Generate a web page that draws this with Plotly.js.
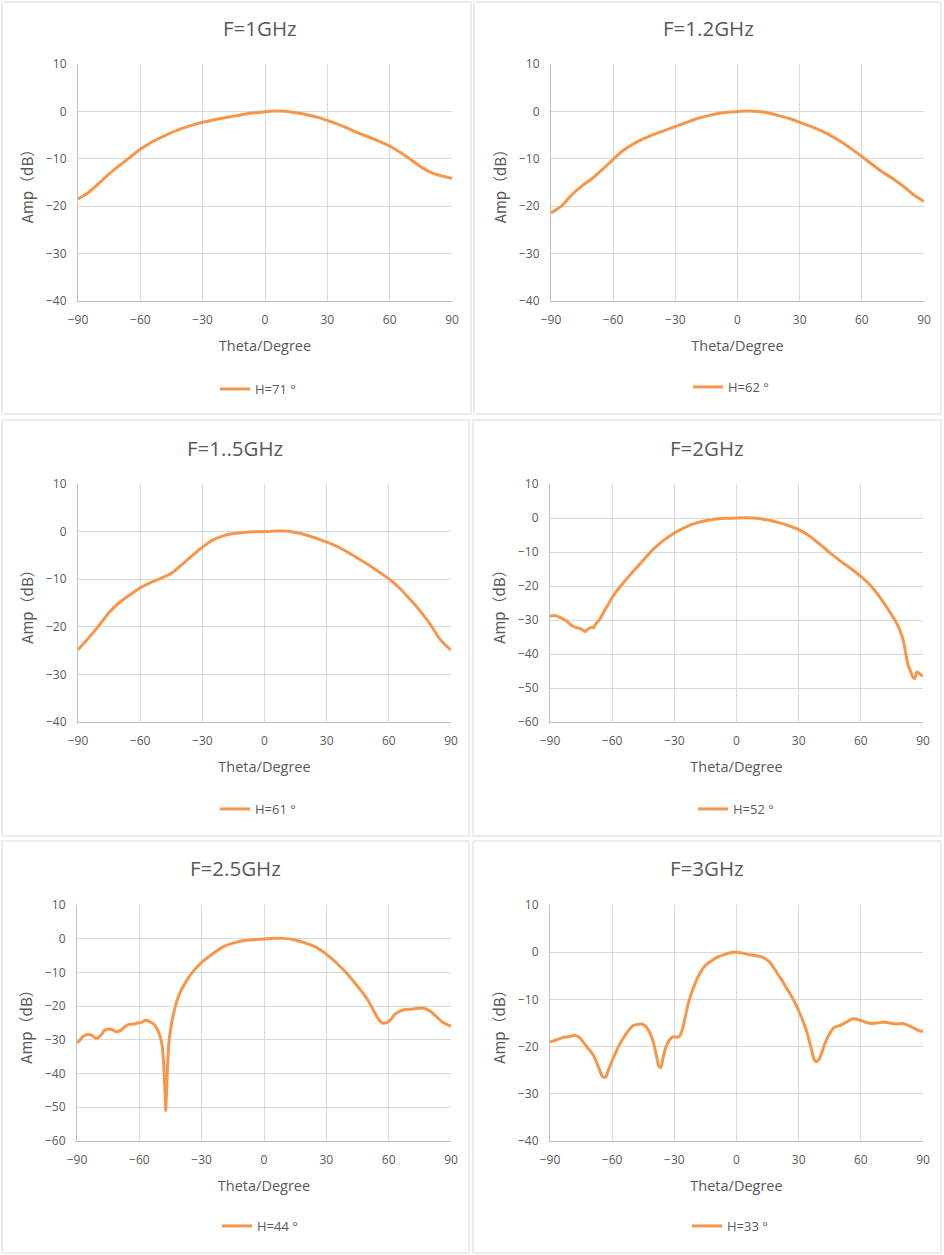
<!DOCTYPE html>
<html>
<head>
<meta charset="utf-8">
<script src="https://cdn.plot.ly/plotly-3.0.1.min.js"></script>
<style>
  html, body { margin: 0; padding: 0; background: #fff; }
  #chart { width: 944px; height: 1255px; }
</style>
</head>
<body>
<div id="chart"></div>
<script>
// panel titles and legend names
const titles = ['F=1GHz', 'F=1.2GHz', 'F=1..5GHz', 'F=2GHz', 'F=2.5GHz', 'F=3GHz'];
const names = ['H=71 °', 'H=62 °', 'H=61 °', 'H=52 °', 'H=44 °', 'H=33 °'];

// theta grid for the smooth patterns (5 degree steps)
const theta5 = [-90, -85, -80, -75, -70, -65, -60, -55, -50, -45, -40, -35, -30, -25, -20, -15, -10, -5,
  0, 5, 10, 15, 20, 25, 30, 35, 40, 45, 50, 55, 60, 65, 70, 75, 80, 85, 90];

const amp1g = [-18.5, -17.1, -15.2, -13.2, -11.4, -9.7, -8.0, -6.6, -5.5, -4.5, -3.6, -2.9, -2.3, -1.8, -1.4, -1.0, -0.6, -0.3,
  -0.05, 0.1, 0.05, -0.3, -0.7, -1.2, -1.9, -2.7, -3.6, -4.6, -5.4, -6.3, -7.3, -8.6, -10.1, -11.7, -12.9, -13.6, -14.1];

const amp12g = [-21.4, -20.0, -17.6, -15.7, -14.1, -12.2, -10.1, -8.2, -6.8, -5.7, -4.8, -4.0, -3.2, -2.4, -1.6, -1.0, -0.5, -0.2,
  0.0, 0.1, 0.0, -0.35, -0.9, -1.5, -2.3, -3.1, -4.0, -5.1, -6.4, -7.9, -9.5, -11.2, -12.8, -14.2, -15.8, -17.6, -19.0];

const amp15g = [-24.8, -22.4, -19.8, -17.0, -14.9, -13.3, -11.8, -10.7, -9.8, -8.8, -7.0, -5.1, -3.3, -1.8, -0.9, -0.4, -0.2, -0.05,
  0.0, 0.1, 0.1, -0.2, -0.7, -1.4, -2.2, -3.1, -4.3, -5.6, -6.9, -8.4, -9.9, -11.8, -14.1, -16.6, -19.5, -22.8, -24.9];

const theta2g = [-90, -88, -86, -84, -82, -80, -78, -76, -74, -73, -72, -70, -69, -68, -66, -64, -62, -60, -57, -54, -50,
  -45, -40, -35, -30, -25, -20, -15, -10, -5, 0, 5, 10, 15, 20, 25, 30, 35, 40, 45, 50, 55, 60, 65, 70, 75, 78, 80,
  81, 82, 83, 84, 85, 86, 87, 88, 89, 90];
const amp2g = [-28.9, -28.7, -29.0, -29.6, -30.3, -31.4, -32.1, -32.4, -33.0, -33.4, -32.8, -32.2, -32.3, -31.2, -29.8,
  -27.6, -25.5, -23.4, -20.8, -18.6, -15.8, -12.4, -9.1, -6.5, -4.4, -2.8, -1.6, -0.8, -0.3, -0.1, 0.0, 0.05, -0.1,
  -0.6, -1.3, -2.2, -3.4, -5.2, -7.6, -10.2, -12.6, -14.8, -17.2, -20.1, -24.0, -28.6, -31.8, -35.0, -37.5, -41.0,
  -43.6, -45.0, -46.7, -47.2, -45.3, -45.6, -46.2, -46.4];

const theta25g = [-90, -89, -87, -85, -83, -81, -80, -78, -77, -75, -73, -71, -69, -67, -65, -63, -61, -59, -57, -55,
  -53, -51, -50, -49, -48.3, -47.6, -47.3, -46.9, -46.4, -45.8, -45, -44, -42, -40, -37, -34, -30, -25, -20, -15, -10,
  -5, 0, 5, 10, 15, 20, 25, 30, 35, 40, 45, 50, 53, 55, 57, 59, 61, 63, 65, 68, 71, 74, 77, 80, 83, 86, 88, 90];
const amp25g = [-30.8, -30.4, -28.9, -28.4, -28.6, -29.5, -29.4, -28.3, -27.3, -26.8, -27.0, -27.6, -27.2, -26.1,
  -25.4, -25.4, -25.0, -24.8, -24.2, -24.6, -25.3, -27.3, -29.0, -31.8, -37.0, -46.0, -51.0, -45.0, -37.5, -31.0,
  -27.0, -23.5, -18.6, -15.5, -12.2, -9.6, -7.0, -4.6, -2.5, -1.3, -0.6, -0.3, -0.1, 0.15, 0.1, -0.4, -1.3, -2.5,
  -4.6, -7.2, -10.4, -14.1, -18.2, -21.6, -23.8, -25.0, -24.9, -24.0, -22.4, -21.6, -21.0, -20.9, -20.6, -20.6,
  -21.5, -23.1, -24.8, -25.4, -26.0];

const theta3g = [-90, -87, -84, -81, -78, -76, -74, -72, -70, -68, -66, -65, -64, -63, -62, -60, -58, -56, -54, -52,
  -50, -48, -46, -44, -42, -40, -38.5, -37.5, -36.5, -35.5, -34, -32, -30.5, -29, -27.5, -26, -24.5, -23, -21, -19,
  -17, -15, -12, -9, -6, -3, 0, 3, 6, 9, 12, 14, 16, 18, 20, 22, 24, 26, 28, 30, 32, 34, 36, 37.5, 38.5, 40, 41.5,
  43, 45, 47, 50, 53, 56, 59, 62, 65, 68, 71, 74, 77, 80, 83, 86, 88, 90];
const amp3g = [-19.0, -18.6, -18.1, -17.9, -17.6, -18.0, -19.0, -20.2, -21.2, -22.8, -25.0, -26.2, -26.5, -26.4,
  -25.2, -23.0, -21.0, -19.2, -17.8, -16.5, -15.6, -15.3, -15.2, -15.6, -16.9, -19.3, -22.2, -24.2, -24.4, -22.5,
  -20.0, -18.4, -17.9, -18.0, -17.8, -16.2, -13.2, -10.4, -7.8, -5.6, -4.0, -2.8, -1.8, -1.0, -0.5, -0.1, 0.0, -0.2,
  -0.5, -0.7, -1.0, -1.4, -2.1, -3.3, -4.7, -6.0, -7.5, -8.9, -10.5, -12.4, -14.5, -17.0, -20.3, -22.8, -23.2, -22.6,
  -20.8, -19.0, -17.2, -16.0, -15.5, -14.8, -14.1, -14.3, -14.8, -15.1, -15.0, -14.8, -15.0, -15.2, -15.1, -15.5,
  -16.2, -16.6, -16.8];

const xTicks = [-90, -60, -30, 0, 30, 60, 90];
const yMin = [-40, -40, -40, -60, -60, -40];

const series = [
  [theta5, amp1g], [theta5, amp12g], [theta5, amp15g],
  [theta2g, amp2g], [theta25g, amp25g], [theta3g, amp3g]
];

// pixel layout of each panel: border box, plot area, title centre, legend
const W = 944, H = 1255;
const panels = [
  { box: [2, 2, 471, 414], plot: [78, 452, 64, 301], tx: 260, ty: 28, lx: 225, ly: 389 },
  { box: [474, 2, 941, 414], plot: [551, 924, 64, 301], tx: 708, ty: 28, lx: 698, ly: 387 },
  { box: [2, 420, 469, 836], plot: [78, 451, 484, 722], tx: 235, ty: 448, lx: 225, ly: 809 },
  { box: [473, 420, 941, 836], plot: [550, 923, 484, 722], tx: 707, ty: 448, lx: 703, ly: 809 },
  { box: [2, 841, 469, 1253], plot: [77, 451, 905, 1141], tx: 235, ty: 868, lx: 227, ly: 1226 },
  { box: [473, 841, 941, 1253], plot: [550, 923, 905, 1141], tx: 707, ty: 868, lx: 697, ly: 1226 }
];

const px = v => v / W;
const py = v => 1 - v / H;
const txt = '#595959';
const font = 'Open Sans, Noto Sans CJK SC, sans-serif';

const data = [];
const layout = {
  width: W, height: H,
  margin: { l: 0, r: 0, t: 0, b: 0 },
  paper_bgcolor: '#fff', plot_bgcolor: '#fff',
  font: { family: font, color: txt, size: 12 },
  showlegend: true,
  shapes: [], annotations: []
};

panels.forEach((p, i) => {
  const n = i === 0 ? '' : String(i + 1);
  const lg = 'legend' + n;
  data.push({
    x: series[i][0], y: series[i][1],
    type: 'scatter', mode: 'lines',
    name: names[i],
    xaxis: 'x' + n, yaxis: 'y' + n,
    legend: lg,
    showlegend: true,
    line: { color: '#F6964B', width: 3, shape: 'spline', smoothing: 0.6 }
  });

  layout['xaxis' + n] = {
    domain: [px(p.plot[0]), px(p.plot[1])],
    anchor: 'y' + n,
    range: [-90, 90],
    tickvals: xTicks,
    showgrid: true, gridcolor: '#d9d9d9', gridwidth: 1,
    showline: true, linecolor: '#bfbfbf', linewidth: 1,
    zeroline: false, ticks: '',
    ticklabelstandoff: 8,
    tickfont: { size: 12, color: txt },
    title: { text: 'Theta/Degree', font: { size: 14.5, color: txt }, standoff: 13 },
    fixedrange: true
  };
  layout['yaxis' + n] = {
    domain: [py(p.plot[3]), py(p.plot[2])],
    anchor: 'x' + n,
    range: [yMin[i], 10],
    dtick: 10,
    showgrid: true, gridcolor: '#d9d9d9', gridwidth: 1,
    showline: true, linecolor: '#bfbfbf', linewidth: 1,
    zeroline: false, ticks: '',
    ticklabelstandoff: 8,
    tickfont: { size: 12, color: txt },
    title: {
      text: 'Amp（dB）',
      font: { size: 15, color: txt, family: 'Noto Sans CJK SC, Open Sans, sans-serif' },
      standoff: 8
    },
    fixedrange: true
  };
  layout[lg] = {
    x: px(p.lx - 10), y: py(p.ly),
    xanchor: 'left', yanchor: 'middle',
    orientation: 'h',
    bgcolor: 'rgba(0,0,0,0)',
    font: { size: 13, color: txt }
  };

  layout.shapes.push({
    type: 'rect', xref: 'paper', yref: 'paper',
    x0: px(p.box[0]), x1: px(p.box[2]), y0: py(p.box[3]), y1: py(p.box[1]),
    line: { color: '#d9d9d9', width: 1 }
  });
  layout.annotations.push({
    text: titles[i], xref: 'paper', yref: 'paper',
    x: px(p.tx), y: py(p.ty), xanchor: 'center', yanchor: 'middle',
    showarrow: false, font: { size: 20.5, color: txt }
  });
});

Plotly.newPlot('chart', data, layout, { displayModeBar: false, staticPlot: true });
</script>
</body>
</html>
